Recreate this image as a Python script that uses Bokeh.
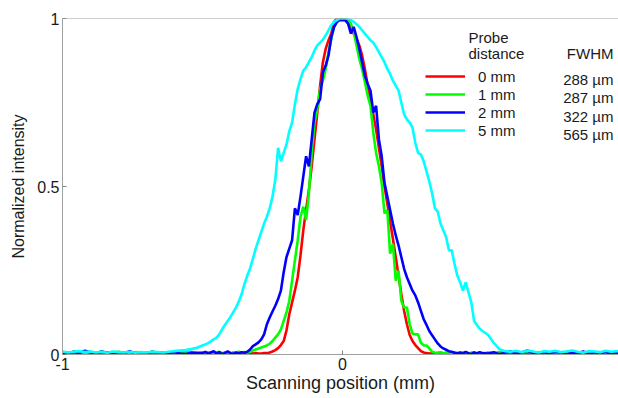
from bokeh.plotting import figure
from bokeh.models import Range1d, FixedTicker, Span, Legend, LegendItem, ColumnDataSource
from bokeh.core.properties import value
from bokeh.embed import file_html
from bokeh.resources import INLINE

# ---------------- data ----------------
# sampling positions (mm): coarse tails, fine centre
x_left = [round(-1.0 + 0.02 * i, 2) for i in range(25)]     # -1.00 .. -0.52
x_mid = [round(-0.50 + 0.01 * i, 2) for i in range(101)]    # -0.50 .. 0.50
x_right = [round(0.52 + 0.02 * i, 2) for i in range(25)]    # 0.52 .. 1.00
x_mm = x_left + x_mid + x_right

red_left = [0.003, 0.006, 0.004, 0.002, 0.005, 0.007, 0.003, 0.004, 0.006, 0.002,
            0.005, 0.003, 0.004, 0.006, 0.003, 0.005, 0.002, 0.004, 0.006, 0.003,
            0.005, 0.004, 0.002, 0.005, 0.003]
red_mid = [0.004, 0.006, 0.003, 0.005, 0.002, 0.004, 0.006, 0.003, 0.005, 0.004,
           0.003, 0.005, 0.004, 0.002, 0.004, 0.005, 0.003, 0.004, 0.003, 0.004,
           0.003, 0.003, 0.004, 0.004, 0.006, 0.009, 0.013, 0.019, 0.028, 0.040,
           0.072, 0.12, 0.155, 0.19, 0.23, 0.295, 0.37, 0.43, 0.49, 0.56,
           0.64, 0.72, 0.80, 0.87, 0.91, 0.935, 0.955, 0.99, 1.0, 1.0,
           1.0, 0.995, 0.985, 0.97, 0.955, 0.94, 0.92, 0.89, 0.85, 0.80,
           0.76, 0.715, 0.67, 0.615, 0.56, 0.50, 0.45, 0.395, 0.345, 0.29,
           0.235, 0.18, 0.13, 0.09, 0.058, 0.04, 0.028, 0.019, 0.01, 0.006,
           0.004, 0.003, 0.004, 0.002, 0.004, 0.005, 0.003, 0.004, 0.002, 0.003,
           0.005, 0.004, 0.003, 0.004, 0.002, 0.003, 0.004, 0.005, 0.003, 0.004,
           0.003]
red_right = [0.004, 0.002, 0.005, 0.003, 0.006, 0.004, 0.002, 0.005, 0.003, 0.004,
             0.006, 0.003, 0.005, 0.002, 0.004, 0.006, 0.003, 0.005, 0.004, 0.002,
             0.005, 0.003, 0.006, 0.004, 0.003]

green_left = [0.007, 0.004, 0.008, 0.006, 0.003, 0.007, 0.005, 0.009, 0.004, 0.006,
              0.008, 0.005, 0.003, 0.007, 0.006, 0.004, 0.008, 0.005, 0.006, 0.004,
              0.007, 0.005, 0.008, 0.004, 0.006]
green_mid = [0.006, 0.004, 0.007, 0.005, 0.003, 0.006, 0.008, 0.004, 0.005, 0.007,
             0.004, 0.006, 0.005, 0.008, 0.006, 0.007, 0.006, 0.008, 0.012, 0.015,
             0.018, 0.021, 0.024, 0.027, 0.032, 0.040, 0.050, 0.060, 0.075, 0.10,
             0.125, 0.16, 0.22, 0.28, 0.34, 0.41, 0.44, 0.40, 0.48, 0.60,
             0.69, 0.73, 0.79, 0.815, 0.85, 0.90, 0.94, 0.975, 0.99, 1.0,
             1.0, 1.0, 0.995, 0.985, 0.96, 0.92, 0.88, 0.85, 0.81, 0.77,
             0.74, 0.66, 0.60, 0.56, 0.51, 0.42, 0.43, 0.30, 0.33, 0.22,
             0.25, 0.16, 0.14, 0.14, 0.09, 0.062, 0.06, 0.06, 0.035, 0.027,
             0.027, 0.018, 0.008, 0.006, 0.005, 0.007, 0.004, 0.006, 0.005, 0.003,
             0.006, 0.004, 0.005, 0.007, 0.004, 0.003, 0.005, 0.006, 0.004, 0.005,
             0.003]
green_right = [0.006, 0.004, 0.007, 0.005, 0.008, 0.004, 0.006, 0.009, 0.005, 0.007,
               0.004, 0.006, 0.008, 0.005, 0.007, 0.004, 0.006, 0.005, 0.008, 0.006,
               0.004, 0.007, 0.005, 0.006, 0.008]

blue_left = [0.005, 0.002, 0.008, 0.004, 0.011, 0.006, 0.003, 0.009, 0.005, 0.001,
             0.007, 0.004, 0.010, 0.003, 0.006, 0.002, 0.008, 0.005, 0.000, 0.004,
             0.007, 0.003, 0.001, 0.006, 0.004]
blue_mid = [0.004, 0.008, 0.002, 0.006, 0.010, 0.003, 0.007, 0.001, 0.005, 0.009,
            0.004, 0.002, 0.006, 0.003, 0.007, 0.005, 0.008, 0.015, 0.025, 0.030,
            0.036, 0.045, 0.06, 0.09, 0.11, 0.128, 0.145, 0.165, 0.19, 0.245,
            0.29, 0.315, 0.34, 0.435, 0.415, 0.47, 0.53, 0.59, 0.56, 0.64,
            0.72, 0.745, 0.76, 0.84, 0.86, 0.89, 0.945, 0.975, 0.99, 0.995,
            0.995, 0.995, 0.985, 0.955, 0.975, 0.945, 0.91, 0.87, 0.83, 0.805,
            0.785, 0.72, 0.74, 0.64, 0.59, 0.51, 0.47, 0.43, 0.39, 0.355,
            0.325, 0.29, 0.255, 0.23, 0.21, 0.19, 0.176, 0.155, 0.13, 0.105,
            0.088, 0.07, 0.057, 0.045, 0.033, 0.024, 0.018, 0.014, 0.01, 0.008,
            0.005, 0.003, 0.006, 0.002, 0.008, 0.004, 0.001, 0.006, 0.003, 0.007,
            0.004]
blue_right = [0.003, 0.007, 0.001, 0.005, 0.009, 0.002, 0.006, 0.012, 0.004, 0.000,
              0.007, 0.003, 0.010, 0.005, 0.001, 0.006, 0.004, 0.009, 0.002, 0.007,
              0.003, 0.008, 0.001, 0.005, 0.004]

cyan_left = [0.009, 0.006, 0.008, 0.010, 0.007, 0.009, 0.006, 0.008, 0.005, 0.009,
             0.007, 0.006, 0.008, 0.005, 0.007, 0.006, 0.008, 0.007, 0.006, 0.008,
             0.010, 0.012, 0.013, 0.016, 0.020]
cyan_mid = [0.027, 0.030, 0.034, 0.039, 0.045, 0.050, 0.060, 0.075, 0.088, 0.10,
            0.112, 0.126, 0.14, 0.158, 0.18, 0.21, 0.235, 0.256, 0.285, 0.315,
            0.34, 0.365, 0.39, 0.41, 0.435, 0.47, 0.52, 0.615, 0.575, 0.60,
            0.625, 0.665, 0.69, 0.745, 0.79, 0.82, 0.845, 0.855, 0.87, 0.885,
            0.905, 0.92, 0.928, 0.937, 0.95, 0.965, 0.98, 0.99, 0.995, 1.0,
            1.0, 1.0, 1.0, 0.995, 0.99, 0.983, 0.975, 0.965, 0.955, 0.945,
            0.935, 0.928, 0.915, 0.90, 0.885, 0.87, 0.85, 0.835, 0.815, 0.80,
            0.786, 0.75, 0.715, 0.70, 0.69, 0.675, 0.63, 0.60, 0.595, 0.575,
            0.545, 0.515, 0.48, 0.435, 0.425, 0.39, 0.37, 0.35, 0.31, 0.31,
            0.27, 0.235, 0.215, 0.19, 0.215, 0.185, 0.155, 0.10, 0.088, 0.077,
            0.07]
cyan_right = [0.058, 0.035, 0.016, 0.010, 0.008, 0.011, 0.007, 0.012, 0.009, 0.006,
              0.010, 0.008, 0.011, 0.007, 0.009, 0.012, 0.008, 0.006, 0.010, 0.009,
              0.007, 0.011, 0.008, 0.010, 0.009]

probe_labels = ["0 mm", "1 mm", "2 mm", "5 mm"]
fwhm_labels = ["288 µm", "287 µm", "322 µm", "565 µm"]
colors = ["#ff0000", "#00ff00", "#0000ff", "#00ffff"]

series = [red_left + red_mid + red_right,
          green_left + green_mid + green_right,
          blue_left + blue_mid + blue_right,
          cyan_left + cyan_mid + cyan_right]

FONT = "Liberation Sans"

# ---------------- figure ----------------
p = figure(width=618, height=398, output_backend="svg", toolbar_location=None,
           x_range=Range1d(-1, 0.9857), y_range=Range1d(0, 1),
           min_border_left=62, min_border_right=0, min_border_top=18,
           min_border_bottom=44)
p.grid.visible = False
p.outline_line_color = None

renderers = []
for ys, c in zip(series, colors):
    r = p.line(x_mm, ys, line_color=c, line_width=2.6)
    renderers.append(r)

# top frame line
p.add_layout(Span(location=1, dimension="width", line_color="#a0a0a0", line_width=1))

for ax in (p.xaxis[0], p.yaxis[0]):
    ax.axis_line_color = "#a0a0a0"
    ax.major_tick_line_color = "#808080"
    ax.major_tick_in = 4
    ax.major_tick_out = 0
    ax.minor_tick_line_color = None
    ax.major_label_text_font = FONT
    ax.major_label_text_font_size = "16px"
    ax.major_label_text_color = "#1a1a1a"
    ax.axis_label_text_font = FONT
    ax.axis_label_text_font_style = "normal"
    ax.axis_label_text_color = "#1a1a1a"

p.xaxis.ticker = FixedTicker(ticks=[-1, 0, 1])
p.xaxis.major_label_overrides = {-1: "-1", 0: "0", 1: "1"}
p.xaxis.axis_label = "Scanning position (mm)"
p.xaxis.axis_label_text_font_size = "18px"
p.xaxis.major_label_standoff = 3
p.xaxis.axis_label_standoff = 0

p.yaxis.ticker = FixedTicker(ticks=[0, 0.5, 1])
p.yaxis.major_label_overrides = {0: "0", 0.5: "0.5", 1: "1"}
p.yaxis.axis_label = "Normalized intensity"
p.yaxis.axis_label_text_font_size = "16px"
p.yaxis.major_label_standoff = 3
p.yaxis.axis_label_standoff = 7

# legend (lines + probe distance)
legend = Legend(items=[LegendItem(label=l, renderers=[r]) for l, r in zip(probe_labels, renderers)],
                location=(363, 215), glyph_width=40, glyph_height=18, label_height=18,
                spacing=0, padding=0, margin=0, label_standoff=13,
                border_line_color=None, background_fill_alpha=0,
                label_text_font=FONT, label_text_font_size="15px", label_text_color="#1a1a1a")
p.add_layout(legend)


def to_data(px, py):
    # convert a page-pixel anchor of the reference layout into data units
    return (px - 342) / 280.0, (354 - py) / 336.0


hx, hy1 = to_data(468, 37)
_, hy2 = to_data(468, 53)
fx, _ = to_data(613, 53)
row_py = [79.3, 97.3, 115.7, 134]
head_src = ColumnDataSource(dict(x=[hx, hx], y=[hy1, hy2], t=["Probe", "distance"]))
p.text(x="x", y="y", text="t", source=head_src, text_font=value(FONT),
       text_font_size="15px", text_color="#1a1a1a", text_align="left",
       text_baseline="alphabetic")
fw_src = ColumnDataSource(dict(x=[fx] * 5,
                               y=[hy2] + [to_data(0, v)[1] for v in row_py],
                               t=["FWHM"] + fwhm_labels))
p.text(x="x", y="y", text="t", source=fw_src, text_font=value(FONT),
       text_font_size="15px", text_color="#1a1a1a", text_align="right",
       text_baseline="alphabetic")

open("out.html", "w").write(file_html(p, INLINE))
